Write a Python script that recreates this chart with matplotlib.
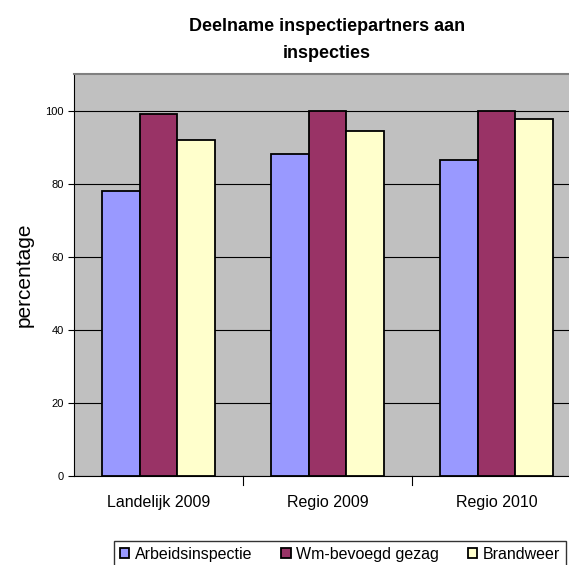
import numpy as np
import matplotlib
matplotlib.use('Agg')
import matplotlib.pyplot as plt

plt.rcParams['font.family'] = ['Liberation Sans', 'DejaVu Sans']

categories = ['Landelijk 2009', 'Regio 2009', 'Regio 2010']
series_names = ['Arbeidsinspectie', 'Wm-bevoegd gezag', 'Brandweer']
arbeids = [78, 88, 86.5]
wm = [99, 100, 100]
brandweer = [92, 94.5, 97.8]
colors = ['#9999FF', '#993366', '#FFFFCC']

W, H = 569, 565
fig = plt.figure(figsize=(W / 100, H / 100), dpi=100)
# plot area runs past the right edge of the picture, as in the original
ax = fig.add_axes([74 / W, 1 - 476 / H, 507 / W, 402 / H])
ax.set_facecolor('#C0C0C0')

x = np.arange(len(categories))
w = 0.221
for i, (vals, name) in enumerate(zip([arbeids, wm, brandweer], series_names)):
    ax.bar(x + (i - 1) * w, vals, w, color=colors[i], edgecolor='black',
           linewidth=1.3, label=name, zorder=3)

ax.set_xlim(-0.5, 2.5)
ax.set_ylim(0, 110)
ax.set_yticks(range(0, 101, 20))
ax.yaxis.grid(True, color='black', linewidth=0.8, zorder=1)
ax.set_xticks(x)
ax.set_xticklabels(categories, fontsize=11.5)
ax.tick_params(axis='y', labelsize=8, length=4, direction='out')
ax.tick_params(axis='x', length=0, pad=14)
ax.spines['top'].set_color('#808080')
ax.spines['top'].set_linewidth(1.5)
for s in ['left', 'bottom']:
    ax.spines[s].set_color('black')
# category separator ticks on the x axis
for b in [0.5, 1.5]:
    ax.plot([b, b], [0, -2.5], color='black', linewidth=0.8, clip_on=False)

ax.set_ylabel('percentage', fontsize=15, labelpad=8)
fig.text(327 / W, 1 - 40 / H, 'Deelname inspectiepartners aan\ninspecties',
         ha='center', va='center', fontsize=13, fontweight='bold',
         linespacing=1.75)

fig.legend(loc='upper left', bbox_to_anchor=(114 / W, 1 - 541 / H), ncol=3,
           fontsize=11.5, frameon=True, fancybox=False, edgecolor='black',
           handlelength=0.6, handleheight=0.6, handletextpad=0.35,
           columnspacing=1.8, borderpad=0.35, borderaxespad=0.0)

fig.savefig('out.png', dpi=100, facecolor='white')
